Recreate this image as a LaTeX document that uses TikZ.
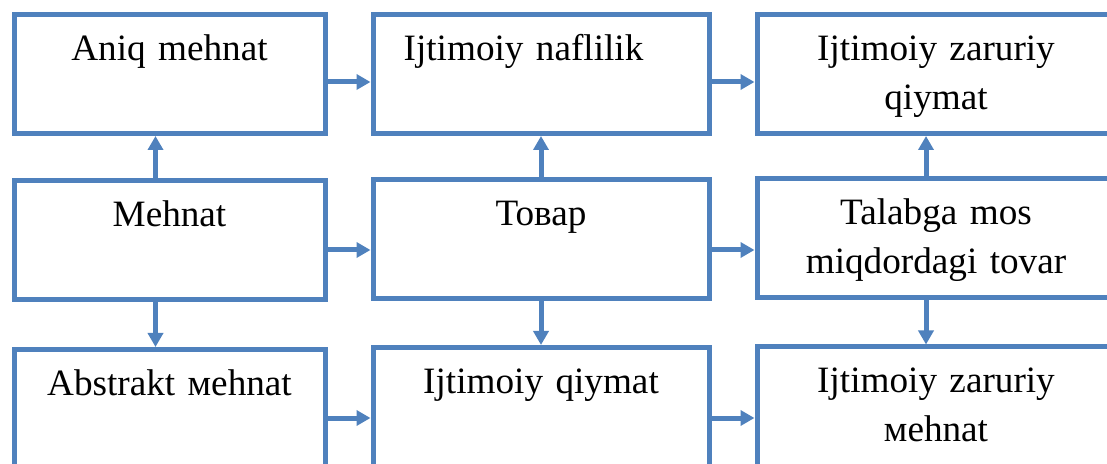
\documentclass[tikz,border=0pt]{standalone}
\usepackage{fontspec}
\setmainfont{Liberation Serif}
\usetikzlibrary{arrows.meta, positioning}
\definecolor{boxblue}{HTML}{4F81BD}

\begin{document}
\begin{tikzpicture}[x=0.5pt, y=-0.5pt,
    box/.style={draw=boxblue, line width=2.5pt, align=center, inner sep=0pt,
                font=\fontsize{18.6pt}{24.5pt}\selectfont,
                text height=23pt, text depth=36.5pt},
    colA/.style={box, text width=155.5pt},
    colB/.style={box, text width=168pt},
    colC/.style={box, text width=179pt},
    arr/.style={color=boxblue, line width=2.5pt, -{Triangle[length=7pt,width=7.5pt]}}]
            \useasboundingbox (0,0) rectangle (1107,464);
            \clip (0,0) rectangle (1107,464);
            \draw (169.5,74) node[colA] (aniq) {Aniq mehnat};
            \draw (541,74) node[colB] (naf) {Ijtimoiy naflilik\kern17.5pt\null};
            \draw (936,74) node[colC] (izq) {Ijtimoiy zaruriy\\qiymat};
            \draw (169.5,240) node[colA] (mehnat) {Mehnat};
            \draw (541,239) node[colB] (tovar) {Товар};
            \draw (936,238) node[colC] (talab) {Talabga mos\\miqdordagi tovar};
            \draw (169.5,409) node[colA] (abstr) {Abstrakt мehnat};
            \draw (541,407) node[colB] (iq) {Ijtimoiy qiymat};
            \draw (936,406.5) node[colC] (izm) {Ijtimoiy zaruriy\\мehnat};
            \path[arr]
            ([yshift=-4pt]aniq.east) edge ([yshift=-4pt]aniq.east -| naf.west)
            ([yshift=-4pt]naf.east) edge ([yshift=-4pt]naf.east -| izq.west)
            ([yshift=-5pt]mehnat.east) edge ([yshift=-5pt]mehnat.east -| tovar.west)
            ([yshift=-5pt]mehnat.east -| tovar.east) edge ([yshift=-5pt]mehnat.east -| talab.west)
            ([yshift=-4.5pt]abstr.east) edge ([yshift=-4.5pt]abstr.east -| iq.west)
            ([yshift=-4.5pt]abstr.east -| iq.east) edge ([yshift=-4.5pt]abstr.east -| izm.west)
            ([xshift=-7pt]mehnat.north) edge ([xshift=-7pt]mehnat.north |- aniq.south)
            ([xshift=-7pt]mehnat.south) edge ([xshift=-7pt]mehnat.south |- abstr.north)
            (tovar.north) edge (naf.south)
            (tovar.south) edge (iq.north)
            ([xshift=-5pt]talab.north) edge ([xshift=-5pt]talab.north |- izq.south)
            ([xshift=-5pt]talab.south) edge ([xshift=-5pt]talab.south |- izm.north);
        \end{tikzpicture}
\end{document}
